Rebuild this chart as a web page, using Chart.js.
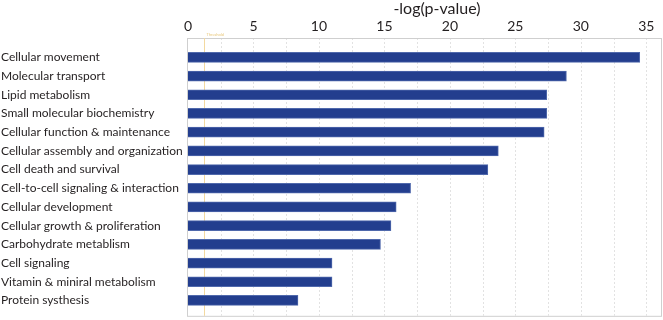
<!DOCTYPE html>
<html>
<head>
<meta charset="utf-8">
<script src="https://cdn.jsdelivr.net/npm/chart.js@4"></script>
<style>
  html, body { margin: 0; padding: 0; background: #fff; }
  #wrap { width: 663px; height: 320px; }
</style>
</head>
<body>
<div id="wrap"><canvas id="barChart"></canvas></div>
<script>
// -log(p-value) by category
const categories = ['Cellular movement','Molecular transport','Lipid metabolism','Small molecular biochemistry',
  'Cellular function & maintenance','Cellular assembly and organization','Cell death and survival',
  'Cell-to-cell signaling & interaction','Cellular development','Cellular growth & proliferation',
  'Carbohydrate metablism','Cell signaling','Vitamin & miniral metabolism','Protein systhesis']
const values = [34.5, 28.9, 27.4, 27.4, 27.2, 23.7, 22.9, 17.0, 15.9, 15.5, 14.7, 11.0, 11.0, 8.4]
const tickLabels = [0, 5, 10, 15, 20, 25, 30, 35]
const threshold = 1.2
const axisTitle = '-log(p-value)'

// frame, dotted grid and threshold line
const framePlugin = {
  id: 'frame',
  beforeDatasetsDraw(chart) {
    const ctx = chart.ctx
    const xs = chart.scales.x
    const a = chart.chartArea
    const top = a.top - 10, bottom = a.bottom + 6
    ctx.save()
    ctx.strokeStyle = '#e2e2e2'
    ctx.lineWidth = 1
    ctx.setLineDash([2, 2])
    xs.ticks.forEach(t => {
      if (t.value === 0) return
      const x = Math.round(xs.getPixelForValue(t.value)) + 0.5
      ctx.beginPath(); ctx.moveTo(x, top); ctx.lineTo(x, bottom); ctx.stroke()
    })
    ctx.setLineDash([])
    ctx.strokeStyle = '#cfcfcf'
    ctx.strokeRect(a.left - 0.5, top + 0.5, a.right - a.left, bottom - top)
    // threshold
    const tx = Math.round(xs.getPixelForValue(threshold)) + 0.5
    ctx.strokeStyle = '#f3d9a0'
    ctx.beginPath(); ctx.moveTo(tx, top); ctx.lineTo(tx, bottom); ctx.stroke()
    ctx.fillStyle = '#e8c77a'
    ctx.font = '4px Lato'
    ctx.textBaseline = 'bottom'
    ctx.fillText('Threshold', tx + 2, top - 1)
    ctx.restore()
  },
  afterDraw(chart) {
    const ctx = chart.ctx
    const a = chart.chartArea
    ctx.save()
    ctx.fillStyle = '#231f20'
    ctx.font = '16px Lato'
    ctx.textAlign = 'center'
    ctx.textBaseline = 'alphabetic'
    ctx.fillText(axisTitle, (a.left + a.right) / 2 + 12, 14)
    ctx.restore()
  }
}

new Chart(document.getElementById('barChart'), {
  type: 'bar',
  data: {
    labels: categories,
    datasets: [{
      data: values,
      backgroundColor: '#233e8e',
      borderColor: '#5069ac',
      borderWidth: 1,
      barThickness: 10
    }]
  },
  options: {
    indexAxis: 'y',
    responsive: true,
    maintainAspectRatio: false,
    animation: false,
    layout: { padding: { left: 1, right: 1, bottom: 6, top: 0 } },
    plugins: { legend: { display: false }, tooltip: { enabled: false } },
    scales: {
      x: {
        position: 'top',
        min: 0,
        max: 36.2,
        grid: { display: false, drawTicks: false },
        border: { display: false },
        ticks: {
          stepSize: 2.5,
          includeBounds: false,
          padding: 13,
          color: '#231f20',
          font: { family: 'Lato', size: 14 },
          maxRotation: 0,
          autoSkip: false,
          callback: v => tickLabels.includes(v) ? String(v) : ''
        },
        afterFit: s => { s.height = 48; s.paddingRight = 0 }
      },
      y: {
        grid: { display: false, drawTicks: false },
        border: { display: false },
        ticks: {
          crossAlign: 'far',
          autoSkip: false,
          color: '#231f20',
          font: { family: 'Lato', size: 12 }
        },
        afterFit: s => { s.width = 187 }
      }
    }
  },
  plugins: [framePlugin]
})
</script>
</body>
</html>
